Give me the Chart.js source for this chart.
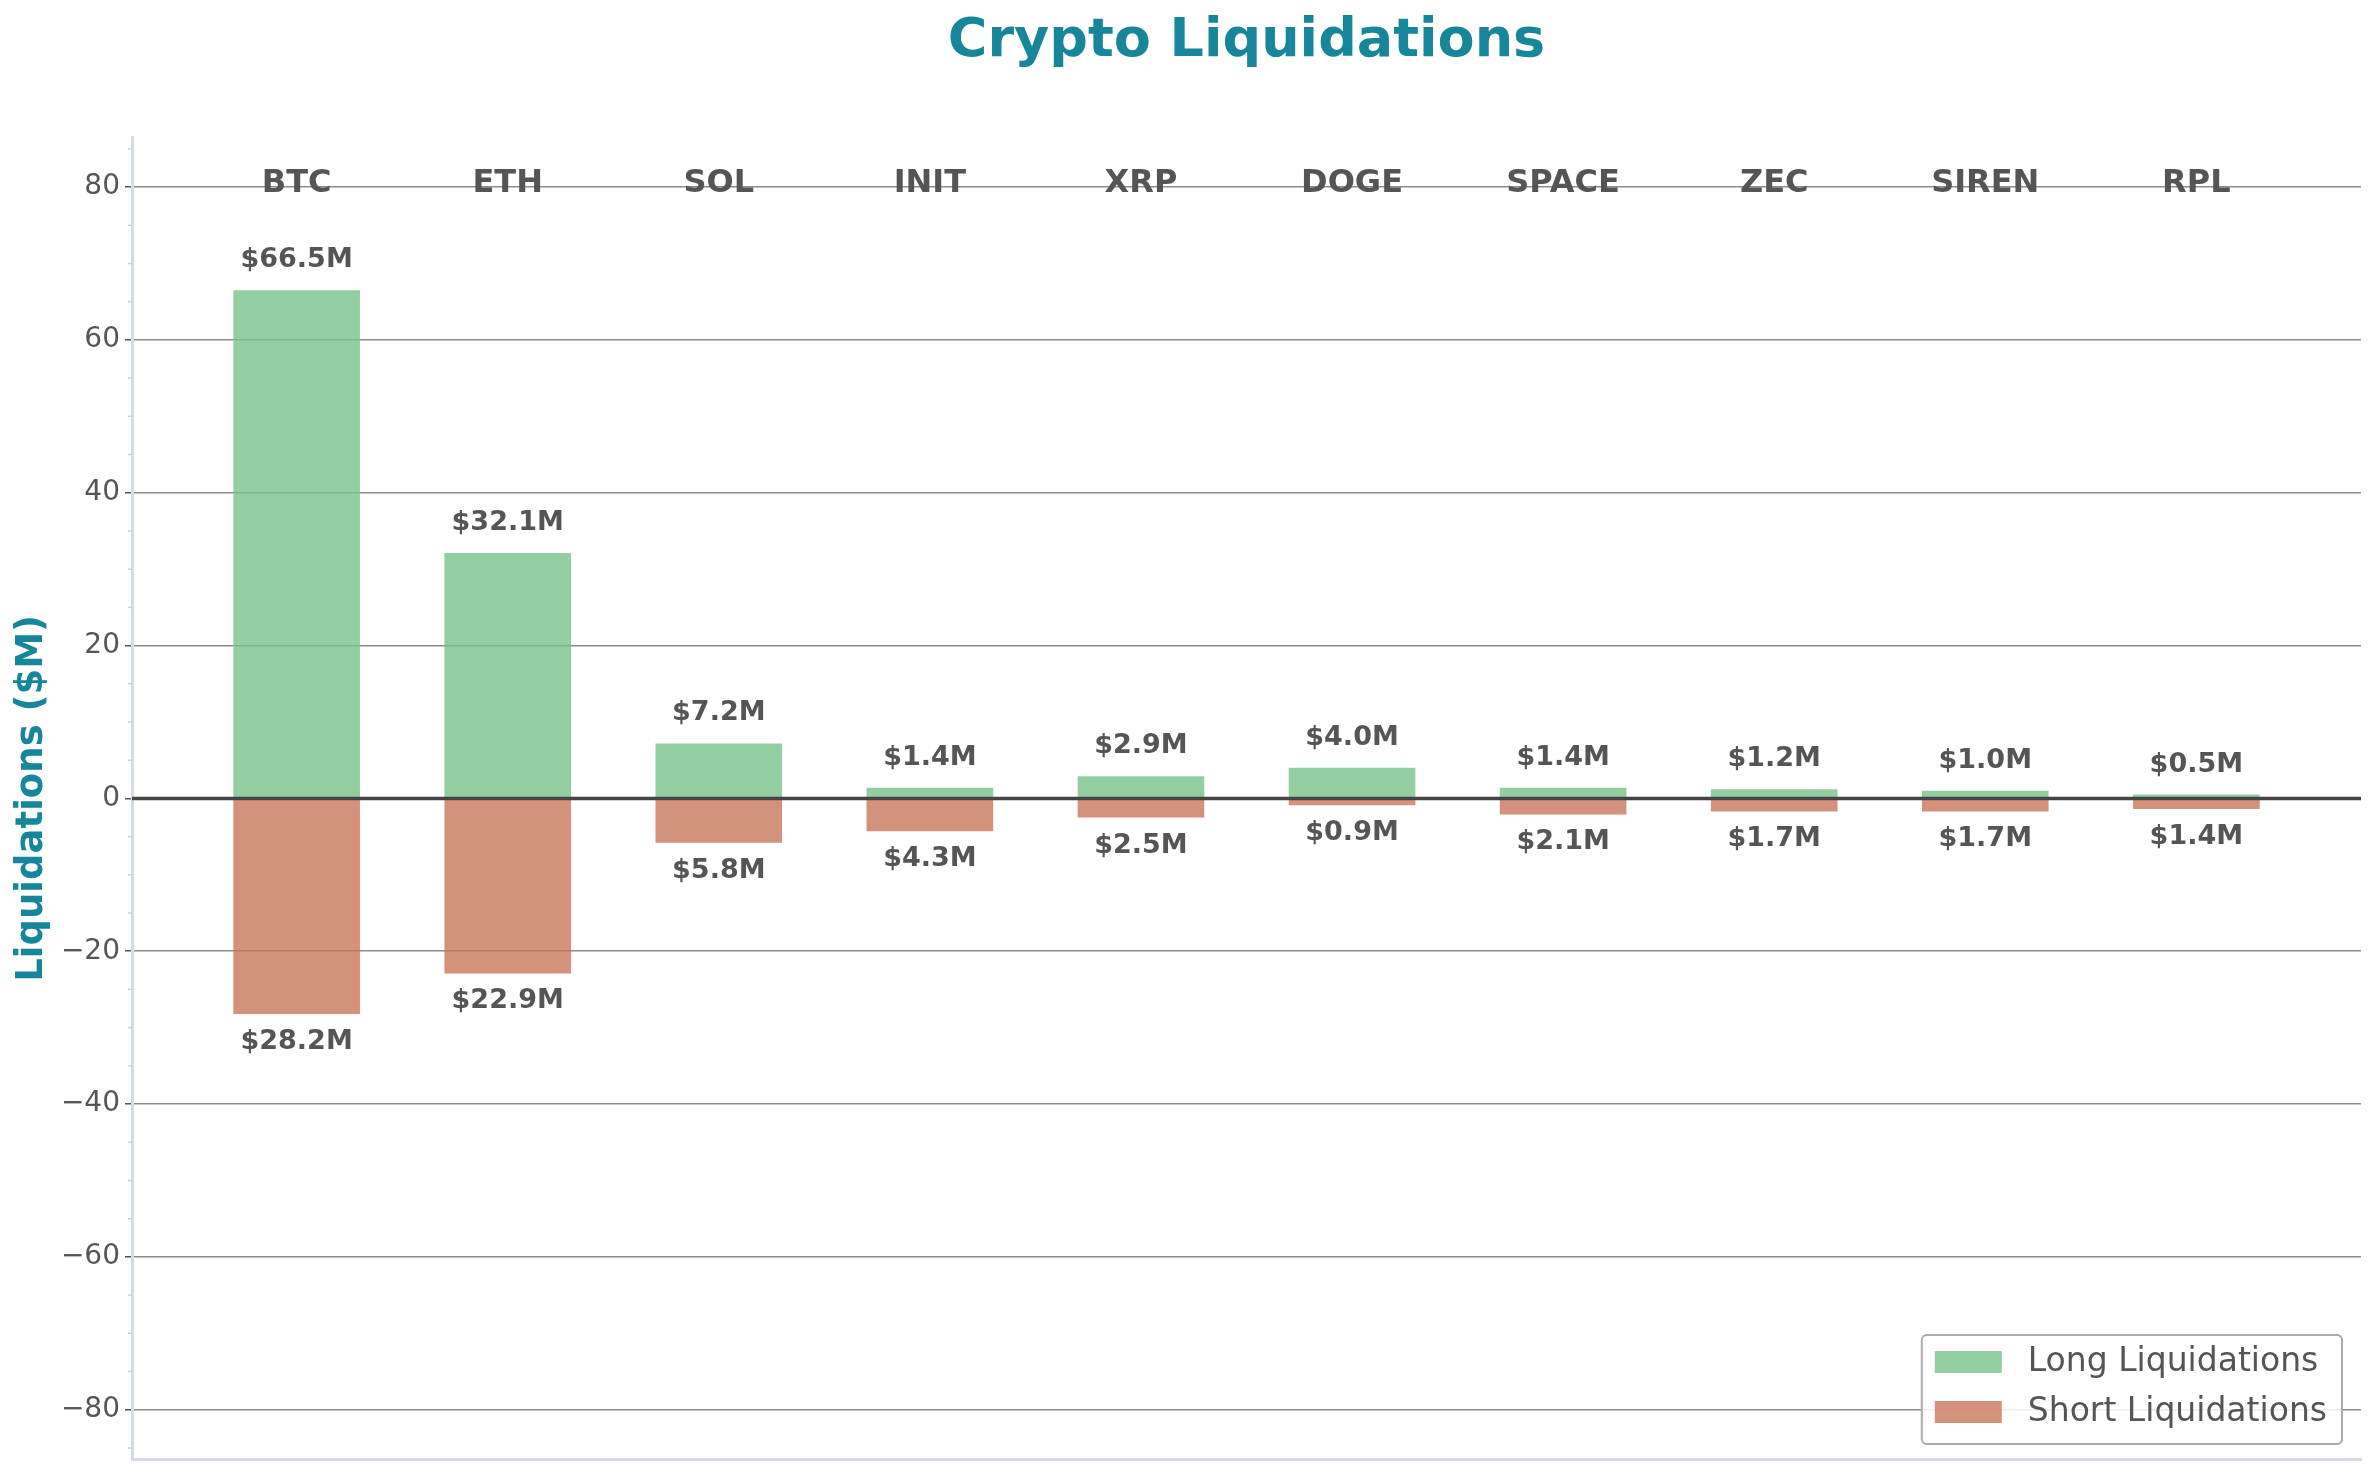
<!DOCTYPE html>
<html lang="en">
<head>
<meta charset="UTF-8">
<title>Crypto Liquidations</title>
<script src="https://cdn.jsdelivr.net/npm/chart.js"></script>
<style>
    html, body { margin: 0; padding: 0; background: #ffffff; }
    #chart { display: block; }
</style>
</head>
<body>
<canvas id="chart" width="2375" height="1476"></canvas>
<script>
// values in $M
const coins = ['BTC', 'ETH', 'SOL', 'INIT', 'XRP', 'DOGE', 'SPACE', 'ZEC', 'SIREN', 'RPL'];
const longLiq = [66.5, 32.1, 7.2, 1.4, 2.9, 4.0, 1.4, 1.2, 1.0, 0.5];
const shortLiq = [28.2, 22.9, 5.8, 4.3, 2.5, 0.9, 2.1, 1.7, 1.7, 1.4];
const seriesNames = ['Long Liquidations', 'Short Liquidations'];

const FONT = '"DejaVu Sans", "Liberation Sans", sans-serif';
const TEXT = '#555555';
const TEAL = '#17869a';
const SPINE = '#d3dbe8';
const longColor = 'rgba(120,194,136,0.8)';
const shortColor = 'rgba(201,118,91,0.8)';

const barWidth = 0.6;
const yLimit = Math.max(...longLiq, ...shortLiq) * 1.3;
const xPad = ((coins.length - 1) + barWidth) * 0.05 + barWidth / 2;

const fmt = v => '$' + v.toFixed(1) + 'M';

const overlay = {
    id: 'overlay',
    afterDatasetsDraw(chart) {
        const {ctx, chartArea: a, scales: {x, y}} = chart;
        ctx.save();

        // zero line on top of the bars
        const y0 = y.getPixelForValue(0);
        ctx.strokeStyle = '#444444';
        ctx.lineWidth = 3.5;
        ctx.beginPath();
        ctx.moveTo(a.left, y0);
        ctx.lineTo(a.right, y0);
        ctx.stroke();

        ctx.fillStyle = TEXT;
        ctx.textAlign = 'center';
        ctx.textBaseline = 'middle';

        // coin names along the top
        ctx.font = 'bold 32px ' + FONT;
        coins.forEach((c, i) => {
            ctx.fillText(c, x.getPixelForValue(i), y.getPixelForValue(yLimit * 0.93));
        });

        // value labels
        ctx.font = 'bold 27px ' + FONT;
        longLiq.forEach((v, i) => {
            ctx.fillText(fmt(v), x.getPixelForValue(i), y.getPixelForValue(v) - 30);
        });
        shortLiq.forEach((v, i) => {
            ctx.fillText(fmt(v), x.getPixelForValue(i), y.getPixelForValue(-v) + 28);
        });
        ctx.restore();
    },
    afterDraw(chart) {
        const {ctx, chartArea: a, scales: {y}} = chart;
        ctx.save();

        // minor ticks every 5
        ctx.strokeStyle = '#c8d0dc';
        ctx.lineWidth = 1.5;
        for (let v = -Math.floor(yLimit / 5) * 5; v <= yLimit; v += 5) {
            if (v % 20 === 0) continue;
            const py = y.getPixelForValue(v);
            ctx.beginPath();
            ctx.moveTo(a.left - 4, py);
            ctx.lineTo(a.left, py);
            ctx.stroke();
        }

        // legend, lower right inside the plot
        ctx.font = '33px ' + FONT;
        const textW = Math.max(...seriesNames.map(s => ctx.measureText(s).width));
        const boxR = a.right - 19, boxB = a.bottom - 15;
        const boxW = 13 + 67 + 26 + textW + 15, boxH = 109;
        const boxL = boxR - boxW, boxT = boxB - boxH;
        ctx.fillStyle = 'rgba(255,255,255,0.85)';
        ctx.strokeStyle = '#aaaaaa';
        ctx.lineWidth = 2;
        ctx.beginPath();
        ctx.roundRect(boxL, boxT, boxW, boxH, 5);
        ctx.fill();
        ctx.stroke();

        ctx.textAlign = 'left';
        ctx.textBaseline = 'middle';
        [longColor, shortColor].forEach((col, i) => {
            const cy = boxT + 27 + i * 50;
            ctx.fillStyle = col;
            ctx.fillRect(boxL + 13, cy - 11, 67, 22);
            ctx.fillStyle = TEXT;
            ctx.fillText(seriesNames[i], boxL + 106, cy);
        });
        ctx.restore();
    }
};

new Chart(document.getElementById('chart'), {
    type: 'bar',
    data: {
        datasets: [
            {
                label: seriesNames[0],
                data: longLiq.map((v, i) => ({x: i, y: v})),
                backgroundColor: longColor,
                borderWidth: 0,
                grouped: false
            },
            {
                label: seriesNames[1],
                data: shortLiq.map((v, i) => ({x: i, y: -v})),
                backgroundColor: shortColor,
                borderWidth: 0,
                grouped: false
            }
        ]
    },
    options: {
        responsive: false,
        devicePixelRatio: 1,
        animation: false,
        barPercentage: barWidth,
        categoryPercentage: 1.0,
        layout: { padding: { left: 0, right: 14, top: 0, bottom: 0 } },
        plugins: {
            legend: { display: false },
            tooltip: { enabled: false },
            title: {
                display: true,
                fullSize: false,
                text: 'Crypto Liquidations',
                color: TEAL,
                font: { family: FONT, size: 54, weight: 'bold' },
                padding: { top: 10, bottom: 63 }
            }
        },
        scales: {
            x: {
                type: 'linear',
                offset: false,
                min: -xPad,
                max: (coins.length - 1) + xPad,
                afterFit: s => { s.height = 17; s.paddingLeft = 0; s.paddingRight = 0; },
                ticks: { display: false, stepSize: 1, includeBounds: false },
                grid: { display: false, drawTicks: false },
                border: { display: true, color: SPINE, width: 3 }
            },
            y: {
                min: -yLimit,
                max: yLimit,
                afterFit: s => { s.width = 132; s.paddingTop = 0; s.paddingBottom = 0; },
                ticks: {
                    stepSize: 20,
                    includeBounds: false,
                    color: TEXT,
                    padding: 5,
                    font: { family: FONT, size: 28 },
                    callback: v => v < 0 ? '\u2212' + Math.abs(v) : String(v)
                },
                grid: {
                    color: ctx => (ctx.tick && ctx.tick.value === 0) ? 'rgba(0,0,0,0)' : 'rgba(120,120,120,0.85)',
                    lineWidth: 1.5,
                    tickLength: 7,
                    tickColor: TEXT,
                    tickWidth: 1.5
                },
                border: { display: true, color: SPINE, width: 3 },
                title: {
                    display: true,
                    text: 'Liquidations ($M)',
                    color: TEAL,
                    font: { family: FONT, size: 37, weight: 'bold' },
                    padding: { top: 10 }
                }
            }
        }
    },
    plugins: [overlay]
});
</script>
</body>
</html>
